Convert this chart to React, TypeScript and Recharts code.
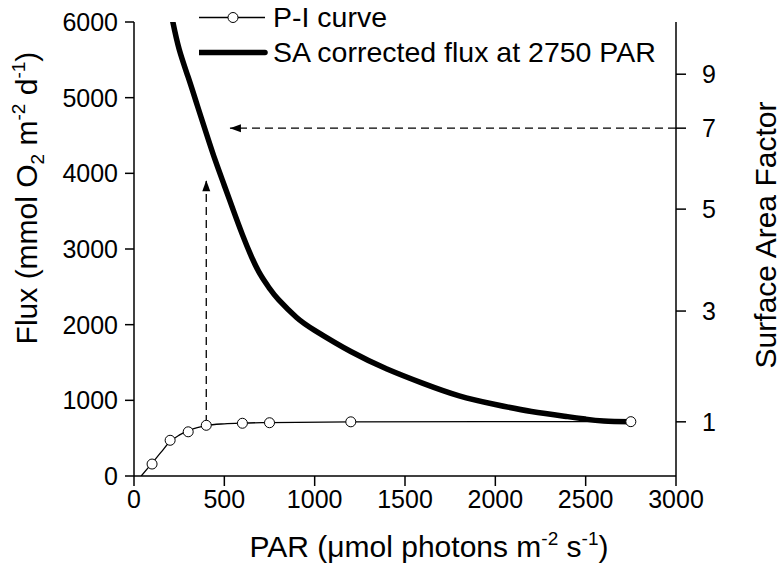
import { Legend, Line, LineChart, XAxis, YAxis } from "recharts";

const FONT = "'Liberation Sans', Arial, sans-serif";

// axes
const PAR_TICKS = [0, 500, 1000, 1500, 2000, 2500, 3000];
const FLUX_TICKS = [0, 1000, 2000, 3000, 4000, 5000, 6000];
const SA_LABELS = [1, 3, 5, 7, 9];
const SA_TICK_FLUX = [716, 2180, 3527, 4597, 5310];

// P-I curve: measured points
const PI_PAR = [100, 200, 300, 400, 600, 750, 1200, 2750];
const PI_FLUX = [158, 472, 584, 670, 697, 704, 716, 718];
// P-I curve: fitted line
const FIT_PAR = [40, 100, 150, 200, 250, 300, 350, 400, 500, 600, 750, 1200, 2750];
const FIT_FLUX = [0, 170, 315, 455, 540, 600, 640, 667, 690, 700, 706, 716, 718];

// SA corrected flux at 2750 PAR
const SA_PAR = [215, 250, 300, 350, 400, 450, 500, 550, 600, 650, 700, 750, 800, 900, 1000, 1200, 1400, 1600, 1800, 2000, 2200, 2400, 2500, 2600, 2750];
const SA_FLUX = [6000, 5640, 5270, 4900, 4530, 4170, 3840, 3510, 3190, 2900, 2660, 2480, 2330, 2095, 1925, 1645, 1415, 1225, 1060, 945, 852, 785, 752, 726, 717];

// dashed arrows
const UP_PAR = [400, 400];
const UP_FLUX = [700, 3910];
const LEFT_PAR = [3000, 531];
const LEFT_FLUX = [4597, 4597];

const zip = (xs: number[], ys: number[]) => xs.map((par, i) => ({ par, flux: ys[i] }));

const fitData = zip(FIT_PAR, FIT_FLUX);
const piData = zip(PI_PAR, PI_FLUX);
const saData = zip(SA_PAR, SA_FLUX);
const upData = zip(UP_PAR, UP_FLUX);
const leftData = zip(LEFT_PAR, LEFT_FLUX);

const saLabel = (v: number) => {
  const i = SA_TICK_FLUX.indexOf(v);
  return i >= 0 ? String(SA_LABELS[i]) : "";
};

const tickStyle = { fill: "#000", fontSize: 25, fontFamily: FONT };

function ArrowTip({ cx, cy, index, dir }: any) {
  if (index !== 1 || cx == null) return <g key={`a-${index}`} />;
  const d =
    dir === "up"
      ? `M${cx},${cy} L${cx - 4},${cy + 11} L${cx + 4},${cy + 11} Z`
      : `M${cx},${cy} L${cx + 11},${cy - 4} L${cx + 11},${cy + 4} Z`;
  return <path key={`a-${index}`} d={d} fill="#000" stroke="none" />;
}

function LeftTitle() {
  return (
    <text transform="translate(37,198) rotate(-90)" textAnchor="middle" fontSize={30} fontFamily={FONT} fill="#000">
      Flux (mmol O<tspan dy={7} fontSize={19}>2</tspan>
      <tspan dy={-7}> m</tspan>
      <tspan dy={-12} fontSize={19}>-2</tspan>
      <tspan dy={12}> d</tspan>
      <tspan dy={-12} fontSize={19}>-1</tspan>
      <tspan dy={12}>)</tspan>
    </text>
  );
}

function RightTitle() {
  return (
    <text transform="translate(776,235) rotate(-90)" textAnchor="middle" fontSize={30} fontFamily={FONT} fill="#000">
      Surface Area Factor
    </text>
  );
}

function BottomTitle() {
  return (
    <text x={429} y={557} textAnchor="middle" fontSize={30} fontFamily={FONT} fill="#000">
      PAR (μmol photons m<tspan dy={-12} fontSize={19}>-2</tspan>
      <tspan dy={12}> s</tspan>
      <tspan dy={-12} fontSize={19}>-1</tspan>
      <tspan dy={12}>)</tspan>
    </text>
  );
}

function LegendBox() {
  return (
    <div style={{ fontFamily: FONT, fontSize: 28.5, color: "#000" }}>
      <div style={{ display: "flex", alignItems: "center", height: 35 }}>
        <svg width={74} height={35}>
          <line x1={0} x2={66} y1={17.5} y2={17.5} stroke="#000" strokeWidth={1.3} />
          <circle cx={34} cy={17.5} r={5} fill="#fff" stroke="#000" strokeWidth={1} />
        </svg>
        <span>P-I curve</span>
      </div>
      <div style={{ display: "flex", alignItems: "center", height: 35 }}>
        <svg width={74} height={35}>
          <line x1={0} x2={66} y1={17.5} y2={17.5} stroke="#000" strokeWidth={5.5} strokeLinecap="round" />
        </svg>
        <span>SA corrected flux at 2750 PAR</span>
      </div>
    </div>
  );
}

export default function App() {
  return (
    <div style={{ position: "absolute", left: 0, top: 0, background: "#fff" }}>
      <LineChart width={784} height={572} margin={{ top: 22, right: 0, bottom: 0, left: 0 }}>
        <XAxis
          type="number"
          dataKey="par"
          domain={[0, 3000]}
          ticks={PAR_TICKS}
          height={96}
          tick={tickStyle}
          tickSize={10}
          tickMargin={4}
          stroke="#000"
          strokeWidth={1.5}
          allowDataOverflow
          label={{ content: () => <BottomTitle /> }}
        />
        <YAxis
          yAxisId="left"
          type="number"
          domain={[0, 6000]}
          ticks={FLUX_TICKS}
          width={134}
          tick={tickStyle}
          tickSize={9}
          tickMargin={7}
          stroke="#000"
          strokeWidth={1.5}
          allowDataOverflow
          label={{ content: () => <LeftTitle /> }}
        />
        <YAxis
          yAxisId="right"
          orientation="right"
          type="number"
          domain={[0, 6000]}
          ticks={SA_TICK_FLUX}
          tickFormatter={saLabel}
          width={108}
          tick={tickStyle}
          tickSize={10}
          tickMargin={16}
          stroke="#000"
          strokeWidth={1.5}
          allowDataOverflow
          label={{ content: () => <RightTitle /> }}
        />
        <Legend
          layout="vertical"
          align="center"
          verticalAlign="middle"
          wrapperStyle={{ left: 199, top: 0, width: 480 }}
          content={() => <LegendBox />}
        />
        <Line
          yAxisId="left"
          data={upData}
          dataKey="flux"
          type="linear"
          stroke="#000"
          strokeWidth={1.3}
          strokeDasharray="8 5"
          dot={(p: any) => <ArrowTip {...p} dir="up" />}
          activeDot={false}
          legendType="none"
          isAnimationActive={false}
        />
        <Line
          yAxisId="right"
          data={leftData}
          dataKey="flux"
          type="linear"
          stroke="#000"
          strokeWidth={1.3}
          strokeDasharray="8 5"
          dot={(p: any) => <ArrowTip {...p} dir="left" />}
          activeDot={false}
          legendType="none"
          isAnimationActive={false}
        />
        <Line
          yAxisId="left"
          data={fitData}
          dataKey="flux"
          type="monotone"
          stroke="#000"
          strokeWidth={1.3}
          dot={false}
          activeDot={false}
          isAnimationActive={false}
        />
        <Line
          yAxisId="left"
          data={saData}
          dataKey="flux"
          type="natural"
          stroke="#000"
          strokeWidth={5.5}
          strokeLinecap="round"
          dot={false}
          activeDot={false}
          isAnimationActive={false}
        />
        <Line
          yAxisId="left"
          data={piData}
          dataKey="flux"
          type="linear"
          stroke="none"
          dot={{ r: 5, fill: "#fff", stroke: "#000", strokeWidth: 1 }}
          activeDot={false}
          isAnimationActive={false}
        />
      </LineChart>
    </div>
  );
}
